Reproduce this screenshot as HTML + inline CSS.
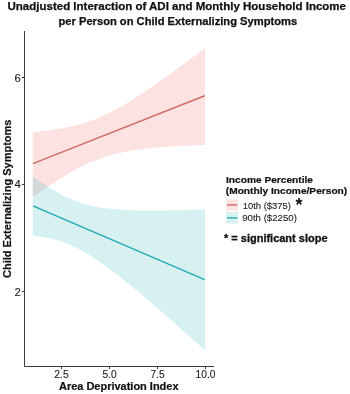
<!DOCTYPE html>
<html><head><meta charset="utf-8">
<style>
html,body{margin:0;padding:0;background:#fff;}
svg{display:block;will-change:transform;}
text{font-family:"Liberation Sans",sans-serif;}
</style></head>
<body>
<svg width="350" height="394" viewBox="0 0 350 394">
<rect x="0" y="0" width="350" height="394" fill="#fff"/>
<g font-weight="bold" fill="#111" stroke="#111" stroke-width="0.25">
<text x="7.5" y="9.6" font-size="10.7" textLength="338.5" lengthAdjust="spacingAndGlyphs">Unadjusted Interaction of ADI and Monthly Household Income</text>
<text x="58.5" y="24.6" font-size="10.7" textLength="238.6" lengthAdjust="spacingAndGlyphs">per Person on Child Externalizing Symptoms</text>
</g>
<path d="M32.80,131.98 L35.67,131.72 L38.54,131.45 L41.41,131.15 L44.28,130.84 L47.15,130.51 L50.02,130.15 L52.89,129.76 L55.76,129.35 L58.63,128.90 L61.50,128.42 L64.37,127.90 L67.24,127.34 L70.11,126.74 L72.98,126.10 L75.85,125.40 L78.72,124.65 L81.59,123.85 L84.46,122.99 L87.33,122.07 L90.20,121.08 L93.07,120.04 L95.94,118.93 L98.81,117.75 L101.68,116.51 L104.55,115.20 L107.42,113.84 L110.29,112.41 L113.16,110.93 L116.03,109.39 L118.90,107.80 L121.77,106.17 L124.64,104.49 L127.51,102.76 L130.38,101.00 L133.25,99.20 L136.12,97.37 L138.99,95.50 L141.86,93.61 L144.73,91.70 L147.60,89.76 L150.47,87.79 L153.34,85.81 L156.21,83.81 L159.08,81.79 L161.95,79.76 L164.82,77.71 L167.69,75.65 L170.56,73.58 L173.43,71.49 L176.30,69.40 L179.17,67.29 L182.04,65.18 L184.91,63.06 L187.78,60.93 L190.65,58.79 L193.52,56.65 L196.39,54.50 L199.26,52.35 L202.13,50.19 L205.00,48.02 L205.00,144.82 L202.13,144.92 L199.26,145.03 L196.39,145.15 L193.52,145.27 L190.65,145.39 L187.78,145.52 L184.91,145.66 L182.04,145.81 L179.17,145.97 L176.30,146.13 L173.43,146.30 L170.56,146.49 L167.69,146.68 L164.82,146.89 L161.95,147.11 L159.08,147.35 L156.21,147.60 L153.34,147.87 L150.47,148.15 L147.60,148.46 L144.73,148.79 L141.86,149.14 L138.99,149.52 L136.12,149.92 L133.25,150.36 L130.38,150.83 L127.51,151.34 L124.64,151.88 L121.77,152.47 L118.90,153.10 L116.03,153.78 L113.16,154.51 L110.29,155.30 L107.42,156.14 L104.55,157.04 L101.68,158.01 L98.81,159.03 L95.94,160.13 L93.07,161.28 L90.20,162.50 L87.33,163.79 L84.46,165.14 L81.59,166.54 L78.72,168.01 L75.85,169.53 L72.98,171.10 L70.11,172.73 L67.24,174.39 L64.37,176.11 L61.50,177.86 L58.63,179.65 L55.76,181.47 L52.89,183.32 L50.02,185.20 L47.15,187.11 L44.28,189.05 L41.41,191.00 L38.54,192.98 L35.67,194.97 L32.80,196.99 Z" fill="rgb(240,110,100)" fill-opacity="0.2"/>
<path d="M32.80,176.23 L35.67,178.33 L38.54,180.39 L41.41,182.40 L44.28,184.36 L47.15,186.25 L50.02,188.09 L52.89,189.86 L55.76,191.55 L58.63,193.17 L61.50,194.72 L64.37,196.17 L67.24,197.55 L70.11,198.83 L72.98,200.03 L75.85,201.14 L78.72,202.16 L81.59,203.10 L84.46,203.97 L87.33,204.75 L90.20,205.46 L93.07,206.10 L95.94,206.68 L98.81,207.20 L101.68,207.67 L104.55,208.08 L107.42,208.45 L110.29,208.78 L113.16,209.07 L116.03,209.32 L118.90,209.55 L121.77,209.74 L124.64,209.91 L127.51,210.05 L130.38,210.17 L133.25,210.27 L136.12,210.35 L138.99,210.42 L141.86,210.47 L144.73,210.50 L147.60,210.52 L150.47,210.53 L153.34,210.53 L156.21,210.52 L159.08,210.50 L161.95,210.47 L164.82,210.43 L167.69,210.39 L170.56,210.33 L173.43,210.27 L176.30,210.21 L179.17,210.14 L182.04,210.06 L184.91,209.98 L187.78,209.90 L190.65,209.80 L193.52,209.71 L196.39,209.61 L199.26,209.51 L202.13,209.41 L205.00,209.30 L205.00,350.27 L202.13,347.70 L199.26,345.13 L196.39,342.56 L193.52,340.00 L190.65,337.44 L187.78,334.89 L184.91,332.33 L182.04,329.79 L179.17,327.25 L176.30,324.71 L173.43,322.18 L170.56,319.66 L167.69,317.14 L164.82,314.63 L161.95,312.12 L159.08,309.63 L156.21,307.14 L153.34,304.67 L150.47,302.20 L147.60,299.74 L144.73,297.30 L141.86,294.87 L138.99,292.46 L136.12,290.06 L133.25,287.67 L130.38,285.31 L127.51,282.96 L124.64,280.64 L121.77,278.34 L118.90,276.07 L116.03,273.83 L113.16,271.61 L110.29,269.44 L107.42,267.30 L104.55,265.21 L101.68,263.16 L98.81,261.16 L95.94,259.21 L93.07,257.32 L90.20,255.50 L87.33,253.75 L84.46,252.07 L81.59,250.46 L78.72,248.94 L75.85,247.50 L72.98,246.14 L70.11,244.88 L67.24,243.70 L64.37,242.60 L61.50,241.59 L58.63,240.67 L55.76,239.83 L52.89,239.06 L50.02,238.36 L47.15,237.73 L44.28,237.16 L41.41,236.65 L38.54,236.20 L35.67,235.79 L32.80,235.43 Z" fill="rgb(55,180,190)" fill-opacity="0.2"/>
<path d="M32.90,163.64 L204.70,95.74" stroke="#cf6c66" stroke-width="1.4" fill="none"/>
<path d="M32.90,205.87 L204.70,279.66" stroke="#1eacb1" stroke-width="1.35" fill="none"/>
<path d="M24.5,31 L24.5,366.5 L214,366.5" stroke="#3a3a3a" stroke-width="1" fill="none"/>
<path d="M22,77.5 L24,77.5 M22,184.5 L24,184.5 M22,291.5 L24,291.5" stroke="#3a3a3a" stroke-width="1"/>
<path d="M61.5,367 L61.5,369 M109.5,367 L109.5,369 M157.5,367 L157.5,369 M205.5,367 L205.5,369" stroke="#3a3a3a" stroke-width="1"/>
<g font-size="10.2" fill="#222" stroke="#222" stroke-width="0.1">
<text x="14.5" y="81.7" textLength="6.3" lengthAdjust="spacingAndGlyphs">6</text>
<text x="14.5" y="188.4" textLength="6.3" lengthAdjust="spacingAndGlyphs">4</text>
<text x="14.5" y="296" textLength="6.3" lengthAdjust="spacingAndGlyphs">2</text>
</g>
<g font-size="10.9" fill="#222" stroke="#222" stroke-width="0.1">
<text x="54.3" y="377.6" textLength="14.5" lengthAdjust="spacingAndGlyphs">2.5</text>
<text x="102.5" y="377.6" textLength="14.2" lengthAdjust="spacingAndGlyphs">5.0</text>
<text x="150.4" y="377.6" textLength="14.2" lengthAdjust="spacingAndGlyphs">7.5</text>
<text x="195.5" y="377.6" textLength="20" lengthAdjust="spacingAndGlyphs">10.0</text>
</g>
<g font-weight="bold" fill="#111" stroke="#111" stroke-width="0.2">
<text x="59" y="389.6" font-size="10.5" textLength="119.5" lengthAdjust="spacingAndGlyphs">Area Deprivation Index</text>
<text transform="translate(10.8,278) rotate(-90)" x="0" y="0" font-size="10.8" textLength="158.5" lengthAdjust="spacingAndGlyphs">Child Externalizing Symptoms</text>
<text x="226" y="183.4" font-size="9.5" textLength="87" lengthAdjust="spacingAndGlyphs">Income Percentile</text>
<text x="225.8" y="193.6" font-size="9.5" textLength="121.4" lengthAdjust="spacingAndGlyphs">(Monthly Income/Person)</text>
</g>
<rect x="226.2" y="199.5" width="11.8" height="11" fill="rgb(252,226,224)"/>
<rect x="226.2" y="212" width="11.8" height="11.5" fill="rgb(215,240,242)"/>
<path d="M227,204.9 L237.2,204.9" stroke="#cf6c66" stroke-width="1.4"/>
<path d="M227,217.9 L237.2,217.9" stroke="#1eacb1" stroke-width="1.35"/>
<g font-size="9.2" fill="#222" stroke="#222" stroke-width="0.1">
<text x="242.7" y="208.5" textLength="48.2" lengthAdjust="spacingAndGlyphs">10th ($375)</text>
<text x="242.2" y="221" textLength="54.7" lengthAdjust="spacingAndGlyphs">90th ($2250)</text>
</g>
<text x="295.5" y="210.5" font-size="18" font-weight="bold" fill="#111">*</text>
<text x="224" y="242.4" font-size="10.8" font-weight="bold" fill="#111" stroke="#111" stroke-width="0.3" textLength="103.5" lengthAdjust="spacingAndGlyphs">* = significant slope</text>
</svg>
</body></html>
